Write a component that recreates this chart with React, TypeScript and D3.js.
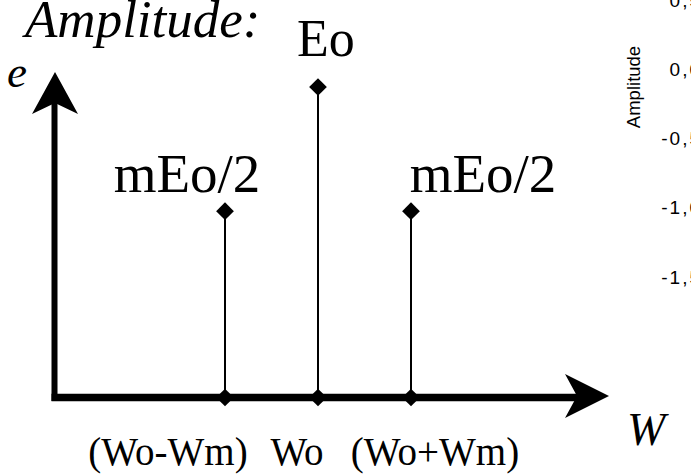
import React from "react";
import * as d3 from "d3";

const categories = ["(Wo-Wm)", "Wo", "(Wo+Wm)"];
const amplitudes = [0.6, 1.0, 0.6];
const peakLabels = ["mEo/2", "Eo", "mEo/2"];
const sideTicks = [0.5, 0.0, -0.5, -1.0, -1.5];
const sideTickLabels = ["0,5", "0,0", "-0,5", "-1,0", "-1,5"];

const W = 691;
const H = 474;
const serif = "'Liberation Serif', 'Times New Roman', Tinos, 'DejaVu Serif', serif";
const sans = "'Liberation Sans', Arial, Arimo, 'DejaVu Sans', sans-serif";

// layout offsets for labels (relative to stems)
const peakLabelDx = [-38, 8, 72];
const catLabelDx = [-57, -21, 24];

export default function App() {
  const x = d3.scalePoint<string>().domain(categories).range([225, 411]);
  const y = d3.scaleLinear().domain([0, 1]).range([397.5, 87]);
  const ySide = d3.scaleLinear().domain([0.5, -1.5]).range([0, 277]);

  const diamond = d3.symbol().type(d3.symbolDiamond2).size(200)();
  const baseY = y(0);

  return (
    <svg
      width={W}
      height={H}
      style={{ position: "absolute", left: 0, top: 0, background: "#fff" }}
    >
      <rect width={W} height={H} fill="#fff" />
      {/* title */}
      <text x={25} y={37} fontFamily={serif} fontStyle="italic" fontSize={53}>
        Amplitude:
      </text>
      <text x={7} y={87} fontFamily={serif} fontStyle="italic" fontSize={45}>
        e
      </text>
      <text x={627} y={445} fontFamily={serif} fontStyle="italic" fontSize={46}>
        W
      </text>

      {/* axes */}
      <line x1={54.5} x2={54.5} y1={401} y2={100} stroke="#000" strokeWidth={6} />
      <path d="M55,72 L78,114 L55,103 L32,114 Z" fill="#000" />
      <line x1={51.5} x2={580} y1={baseY} y2={baseY} stroke="#000" strokeWidth={7.5} />
      <path d="M609,396 L565,418 L577,396 L565,374 Z" fill="#000" />

      {/* stems */}
      {categories.map((c, i) => (
        <g key={c}>
          <line
            x1={x(c)}
            x2={x(c)}
            y1={baseY}
            y2={y(amplitudes[i])}
            stroke="#000"
            strokeWidth={2}
          />
          <path d={diamond} transform={`translate(${x(c)},${y(amplitudes[i])})`} fill="#000" />
          <path d={diamond} transform={`translate(${x(c)},${baseY})`} fill="#000" />
          <text
            x={(x(c) as number) + peakLabelDx[i]}
            y={i === 1 ? 56 : 192}
            textAnchor="middle"
            fontFamily={serif}
            fontSize={i === 1 ? 52 : 55}
          >
            {peakLabels[i]}
          </text>
          <text
            x={(x(c) as number) + catLabelDx[i]}
            y={465}
            textAnchor="middle"
            fontFamily={serif}
            fontSize={39}
          >
            {c}
          </text>
        </g>
      ))}

      {/* fragment of neighbouring chart */}
      <text
        transform="translate(640,87) rotate(-90)"
        textAnchor="middle"
        fontFamily={sans}
        fontSize={18.5}
      >
        Amplitude
      </text>
      {sideTicks.map((t, i) => (
        <text
          key={t}
          x={702}
          y={ySide(t)}
          dy="0.35em"
          textAnchor="end"
          fontFamily={sans}
          fontSize={19}
          letterSpacing={2}
        >
          {sideTickLabels[i]}
        </text>
      ))}
    </svg>
  );
}
